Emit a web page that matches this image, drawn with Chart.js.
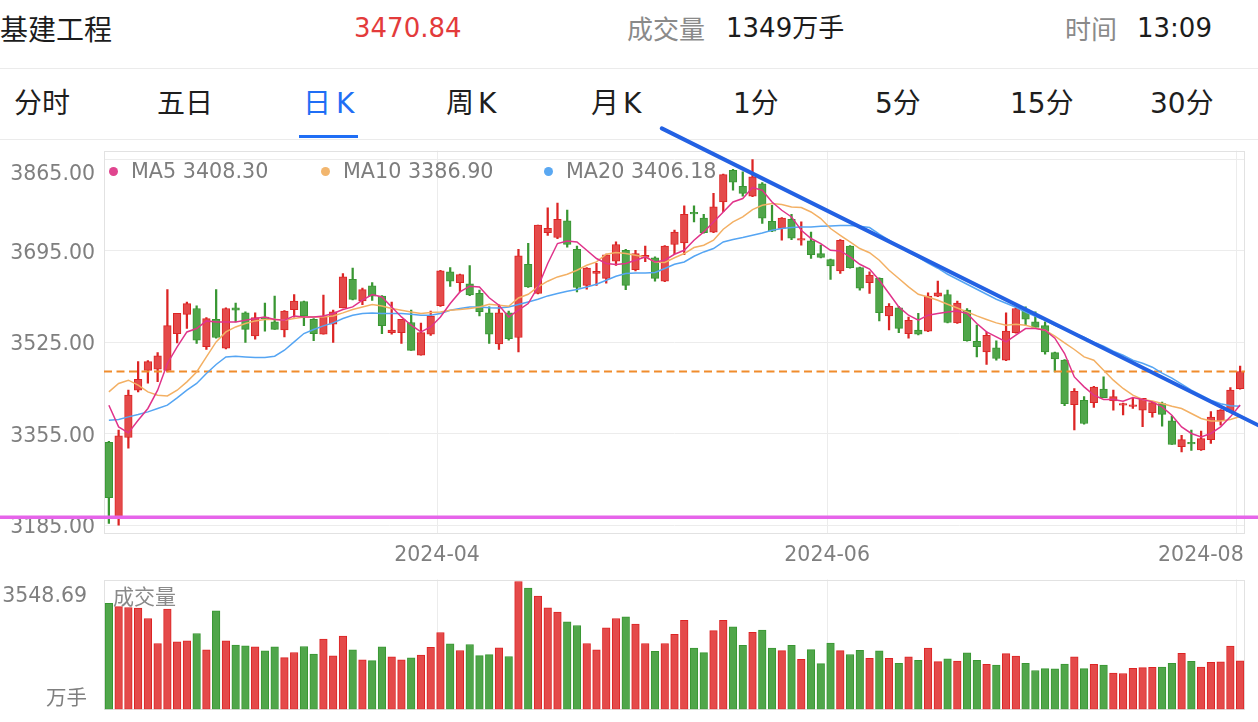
<!DOCTYPE html>
<html><head><meta charset="utf-8">
<script src="https://cdn.jsdelivr.net/npm/chart.js@4.4.1/dist/chart.umd.min.js"></script>
<style>
html,body{margin:0;padding:0;background:#fff;}
body{width:1258px;height:722px;position:relative;overflow:hidden;}
.t{position:absolute;white-space:nowrap;}
.cn{font-family:"Noto Sans CJK SC",sans-serif;}
.num{font-family:"DejaVu Sans","Noto Sans CJK SC",sans-serif;}
.hd{top:8px;line-height:40px;}
.tab{top:84px;line-height:40px;font-size:28px;color:#1e1e1e;}
.sep{position:absolute;left:0;width:1258px;height:1px;background:#ebebeb;}
.dot{position:absolute;width:9px;height:9px;border-radius:50%;top:167px;}
.lg{top:158px;line-height:26px;font-size:20.7px;color:#7d7d7d;z-index:2;}
canvas{position:absolute;left:0;z-index:1;}
</style></head><body>
<div class="t cn hd" style="left:0;font-size:28px;color:#1c1c1c">基建工程</div>
<div class="t num hd" style="left:354px;font-size:26px;color:#e33b3b">3470.84</div>
<div class="t cn hd" style="left:627px;font-size:26px;color:#8a8a8a">成交量</div>
<div class="t num hd" style="left:726px;font-size:26px;color:#1c1c1c">1349万手</div>
<div class="t cn hd" style="left:1065px;font-size:26px;color:#8a8a8a">时间</div>
<div class="t num hd" style="left:1137px;font-size:26px;color:#1c1c1c">13:09</div>
<div class="sep" style="top:68px"></div>
<div class="t num tab" style="left:14px">分时</div>
<div class="t num tab" style="left:157px">五日</div>
<div class="t num tab" style="left:303px;color:#1f6ef5">日<span style="margin-left:5px">K</span></div>
<div class="t num tab" style="left:446px">周<span style="margin-left:4px">K</span></div>
<div class="t num tab" style="left:591px">月<span style="margin-left:4px">K</span></div>
<div class="t num tab" style="left:733px">1分</div>
<div class="t num tab" style="left:875px">5分</div>
<div class="t num tab" style="left:1010px">15分</div>
<div class="t num tab" style="left:1150px">30分</div>
<div style="position:absolute;left:299px;top:135px;width:59px;height:3px;background:#1f6ef5"></div>
<div class="sep" style="top:139px"></div>

<canvas id="main" width="1258" height="460" style="top:110px"></canvas>
<canvas id="vol" width="1258" height="157" style="top:565px"></canvas>

<div class="dot" style="left:109px;background:#e0458f;z-index:2"></div>
<div class="t num lg" id="lg5" style="left:131px">MA5 3408.30</div>
<div class="dot" style="left:321px;background:#f2b66e;z-index:2"></div>
<div class="t num lg" id="lg10" style="left:343px">MA10 3386.90</div>
<div class="dot" style="left:544px;background:#5aa8f2;z-index:2"></div>
<div class="t num lg" id="lg20" style="left:566px">MA20 3406.18</div>
<div class="t cn" style="left:113px;top:582px;line-height:26px;font-size:21px;color:#8a8a8a;z-index:2">成交量</div>

<script>
// ---- categories ----
const dates = [
'2024-02-05','2024-02-06','2024-02-07','2024-02-08','2024-02-19','2024-02-20','2024-02-21','2024-02-22','2024-02-23','2024-02-26','2024-02-27','2024-02-28','2024-02-29',
'2024-03-01','2024-03-04','2024-03-05','2024-03-06','2024-03-07','2024-03-08','2024-03-11','2024-03-12','2024-03-13','2024-03-14','2024-03-15','2024-03-18','2024-03-19','2024-03-20','2024-03-21','2024-03-22','2024-03-25','2024-03-26','2024-03-27','2024-03-28','2024-03-29',
'2024-04-01','2024-04-02','2024-04-03','2024-04-08','2024-04-09','2024-04-10','2024-04-11','2024-04-12','2024-04-15','2024-04-16','2024-04-17','2024-04-18','2024-04-19','2024-04-22','2024-04-23','2024-04-24','2024-04-25','2024-04-26','2024-04-29','2024-04-30',
'2024-05-06','2024-05-07','2024-05-08','2024-05-09','2024-05-10','2024-05-13','2024-05-14','2024-05-15','2024-05-16','2024-05-17','2024-05-20','2024-05-21','2024-05-22','2024-05-23','2024-05-24','2024-05-27','2024-05-28','2024-05-29','2024-05-30','2024-05-31',
'2024-06-03','2024-06-04','2024-06-05','2024-06-06','2024-06-07','2024-06-11','2024-06-12','2024-06-13','2024-06-14','2024-06-17','2024-06-18','2024-06-19','2024-06-20','2024-06-21','2024-06-24','2024-06-25','2024-06-26','2024-06-27','2024-06-28',
'2024-07-01','2024-07-02','2024-07-03','2024-07-04','2024-07-05','2024-07-08','2024-07-09','2024-07-10','2024-07-11','2024-07-12','2024-07-15','2024-07-16','2024-07-17','2024-07-18','2024-07-19','2024-07-22','2024-07-23','2024-07-24','2024-07-25','2024-07-26','2024-07-29','2024-07-30','2024-07-31',
'2024-08-01'];

// ---- OHLC ----
const open = [3339,3200,3348,3436,3473,3475,3473,3541,3577,3588,3517,3568,3514,3589,3580,3537,3572,3563,3548,3586,
3601,3568,3540,3559,3589,3642,3602,3630,3611,3543,3543,3562,3501,3540,3593,3656,3636,3634,3616,3580,
3522,3580,3534,3670,3616,3729,3720,3751,3698,3631,3653,3644,3676,3696,3660,3683,3682,3639,3707,3710,
3766,3756,3730,3786,3845,3815,3797,3820,3750,3737,3754,3715,3714,3690,3679,3658,3704,3664,3636,3644,
3574,3589,3541,3548,3546,3611,3614,3561,3585,3527,3507,3515,3492,3543,3586,3563,3556,3506,3492,3409,
3417,3413,3438,3416,3408,3406,3399,3394,3411,3379,3331,3339,3325,3344,3379,3396,3439];
const high = [3341,3362,3436,3489,3491,3506,3623,3579,3600,3593,3571,3623,3589,3598,3582,3580,3598,3611,3584,3614,
3602,3569,3613,3585,3653,3663,3626,3636,3612,3600,3568,3585,3561,3583,3659,3664,3652,3668,3622,3591,
3595,3583,3698,3709,3743,3775,3784,3771,3704,3664,3672,3689,3712,3698,3696,3704,3684,3705,3734,3779,
3779,3763,3802,3838,3847,3842,3865,3822,3780,3757,3763,3749,3730,3706,3680,3716,3705,3665,3656,3645,
3597,3592,3572,3579,3617,3639,3622,3602,3588,3557,3544,3528,3580,3589,3591,3582,3563,3507,3493,3439,
3424,3443,3461,3436,3412,3421,3421,3414,3414,3388,3352,3362,3360,3396,3400,3441,3481];
const low = [3188,3185,3328,3433,3449,3452,3470,3524,3551,3523,3512,3533,3513,3563,3525,3531,3546,3549,3535,3572,
3556,3528,3540,3525,3589,3604,3595,3603,3541,3540,3523,3510,3501,3538,3592,3629,3619,3612,3574,3523,
3512,3529,3507,3627,3615,3724,3718,3702,3619,3624,3631,3635,3668,3623,3658,3675,3639,3638,3690,3688,
3749,3728,3729,3768,3808,3797,3796,3746,3731,3715,3716,3706,3681,3682,3642,3653,3663,3622,3616,3565,
3548,3543,3533,3539,3545,3610,3561,3560,3527,3498,3484,3492,3491,3542,3557,3552,3503,3470,3407,3362,
3373,3404,3422,3399,3390,3402,3368,3386,3369,3335,3321,3324,3324,3337,3371,3395,3438];
const close = [3236,3351,3427,3456,3489,3500,3556,3579,3597,3529,3569,3534,3588,3585,3549,3571,3569,3549,3583,3602,
3574,3541,3572,3582,3647,3605,3623,3611,3556,3548,3568,3510,3543,3574,3658,3639,3651,3613,3582,3540,
3580,3532,3686,3628,3743,3737,3754,3707,3627,3663,3657,3688,3707,3631,3690,3687,3644,3704,3730,3763,
3764,3729,3777,3837,3823,3802,3833,3756,3732,3756,3719,3718,3688,3683,3667,3715,3664,3626,3650,3580,
3592,3551,3566,3540,3611,3617,3562,3598,3528,3517,3538,3495,3546,3588,3568,3553,3507,3494,3411,3434,
3374,3442,3422,3424,3411,3409,3421,3413,3391,3335,3344,3336,3346,3386,3399,3436,3470.84];

// ---- volume (万手) ----
const volume = [2939,2850,2827,2810,2521,1826,2781,1873,1900,2104,1650,2735,1900,1780,1761,1733,1622,1733,1437,1576,
1743,1530,1947,1483,2030,1650,1372,1353,1733,1455,1372,1428,1502,1724,2132,1817,1632,1798,1492,1520,
1706,1465,3548.69,3365,3143,2818,2698,2429,2327,1826,1650,2262,2521,2568,2364,1826,1613,1826,2080,2473,
1702,1575,2183,2473,2292,1775,2138,2201,1702,1630,1775,1385,1657,1267,1838,1630,1521,1639,1412,1621,
1412,1276,1458,1358,1702,1322,1403,1340,1566,1358,1249,1231,1548,1476,1276,1077,1131,1122,1258,1458,
1131,1249,1231,1004,995,1138,1155,1166,1174,1277,1555,1332,1174,1305,1321,1757,1349];

// ---- moving averages ----
const ma5 = [3408.1,3367.8,3356.6,3380.2,3402,3436,3485.7,3516.5,3544.4,3550.7,
3564.9,3563,3563,3563,3566.2,3569.3,3572.3,3567.5,3566.2,3574.2,
3572.3,3572.3,3574.2,3578.6,3586.1,3590.9,3603.4,3614,3609.5,3590.9,
3572.3,3556.9,3544.4,3553.7,3572.3,3597.2,3618.8,3629.4,3628.1,3608,
3594.1,3572.3,3584.8,3597.2,3628.1,3671.6,3708.8,3713.6,3711.8,3696.3,
3680.9,3671.6,3669.8,3671.6,3677.7,3683.9,3674.6,3677.7,3688.9,3696.3,
3714.9,3730.4,3749,3767.5,3786.1,3792.5,3812.9,3807.9,3786.1,3770.7,
3758.3,3733.5,3718.1,3708.8,3696.3,3695,3683.9,3670.3,3661.4,3640.6,
3615.8,3590.9,3575.5,3566.2,3575.5,3578.6,3581.6,3583.5,3578.6,3560,
3544.4,3535.1,3525.8,3538.3,3550.7,3550.7,3547.6,3532.7,3504.3,3460.7,
3442.2,3426.7,3418.7,3418.7,3415.6,3422.4,3418.7,3414.3,3405,3389.5,
3367.8,3355.5,3349.2,3355.5,3367.8,3386.4,3408.30];
const ma10 = [3432.9,3448.5,3454.6,3445.3,3432.9,3426.7,3425.4,3436,3451.5,3470,
3497.9,3525.8,3544.4,3553.7,3560,3564.9,3567.5,3568,3566.2,3569.3,
3572.3,3572.3,3572.3,3574.2,3579.8,3586.1,3590.9,3595.4,3592.8,3587.9,
3584.8,3581.6,3578.6,3580.5,3581.6,3584.8,3586.1,3587.9,3590.9,3595.9,
3594.1,3592.2,3607.6,3614.5,3628.1,3638.7,3646.7,3651.7,3659.1,3668.4,
3674.6,3688.9,3692.1,3690.2,3687,3683.9,3674.6,3673.5,3682.4,3690.2,
3701.4,3705.6,3714.9,3735.4,3749,3758.3,3772,3780,3783.2,3781.3,
3776.8,3775.7,3767.5,3755.3,3736.7,3724.2,3711.8,3699.5,3691.7,3677.7,
3659.1,3643.7,3628.1,3614.5,3609.5,3603.4,3595.9,3589,3581.6,3574.2,
3567.5,3561.2,3556.9,3558.7,3556.9,3551.9,3547.6,3536.4,3524,3511.7,
3497.9,3491.8,3473.2,3454.6,3439.2,3426.7,3418.7,3416.1,3411.3,3406.3,
3402,3392.7,3383.4,3378.9,3378.9,3381.5,3386.90];
const ma20 = [3380.2,3381.5,3386.4,3390.8,3395.7,3402,3408.1,3421.7,3436,3448.5,
3467.1,3483.8,3497.9,3499.2,3497.9,3496.8,3496.8,3499.2,3510.4,3525.8,
3541.4,3548.9,3555.6,3561.2,3569.3,3575.5,3578.6,3579.8,3578.6,3578.6,
3578.6,3577.3,3575.5,3575.5,3578.6,3584.8,3587.9,3590.9,3590.9,3589.4,
3589,3590.9,3595.4,3600.2,3605.2,3611.4,3615.8,3620.1,3623.3,3628.1,
3633.1,3640.6,3648,3653,3654.1,3654.1,3654.9,3662.3,3670.3,3674.6,
3685.2,3693.2,3699.5,3711.8,3716.2,3719.9,3724.2,3728.5,3733.5,3736.7,
3738.6,3739.7,3739.7,3741,3741.5,3742.3,3742.3,3741,3738.6,3726.1,
3714.9,3703.8,3692.6,3683.3,3672.2,3662.9,3651.7,3642.4,3633.1,3623.8,
3614.5,3605.2,3597.8,3590.3,3581.1,3573.6,3566.2,3556.9,3549.4,3542,
3534.6,3525.3,3517.8,3508.5,3501.1,3491.8,3486.2,3478.8,3467.6,3458.3,
3447.2,3436,3426.7,3417.4,3410.9,3407.2,3406.18];

// ---- axis ticks / annotations ----
const priceTicks = [3185, 3355, 3525, 3695, 3865];
const monthTicks = ['2024-04', '2024-06', '2024-08'];
const volumeMax = 3548.69;
const volumeUnit = '万手';
const lastPrice = 3470.84;
const supportLevel = 3199.5;
const trendStart = [56.7, 3923];   // [index, price]
const trendEnd = [118.5, 3365];

// ---- build ----
const N = dates.length;
const UP = 'rgb(228,74,74)', UPE = 'rgb(220,36,36)';
const DN = 'rgb(80,166,74)', DNE = 'rgb(56,150,50)';
const isUp = close.map((c, i) => c >= open[i]);
const fill = isUp.map(u => u ? UP : DN);
const edge = isUp.map(u => u ? UPE : DNE);
const monthIdx = monthTicks.map(m => dates.findIndex(d => d.startsWith(m)));
const gridAt = monthIdx.map(i => i - 0.35);
const pts = arr => arr.map((v, i) => ({x: i, y: v}));

document.getElementById('lg5').textContent = 'MA5 ' + ma5[N-1].toFixed(2);
document.getElementById('lg10').textContent = 'MA10 ' + ma10[N-1].toFixed(2);
document.getElementById('lg20').textContent = 'MA20 ' + ma20[N-1].toFixed(2);

const AXIS_FONT = {family: "'DejaVu Sans', 'Noto Sans CJK SC'", size: 20.5};
const AXIS_COLOR = '#7f7f7f';
const GRID = '#ececec';

function fixSize(prop, val) {
  return s => {
    s[prop] = val;
    s.paddingLeft = 0; s.paddingRight = 0; s.paddingTop = 0; s.paddingBottom = 0;
  };
}

const framePlugin = {
  id: 'frame',
  beforeDatasetsDraw(chart) {
    const {ctx, chartArea: a} = chart;
    ctx.save();
    ctx.strokeStyle = '#e2e2e2';
    ctx.lineWidth = 1;
    ctx.strokeRect(Math.round(a.left) + 0.5, Math.round(a.top) + 0.5,
                   Math.round(a.right - a.left) - 1, Math.round(a.bottom - a.top) - 1);
    ctx.restore();
  }
};

Chart.defaults.font.family = AXIS_FONT.family;

new Chart(document.getElementById('main'), {
  type: 'bar',
  data: {
    datasets: [
      {type: 'line', label: 'trend', data: [{x: trendStart[0], y: trendStart[1]}, {x: trendEnd[0], y: trendEnd[1]}],
       borderColor: '#2361e3', borderWidth: 4, pointRadius: 0, clip: false, order: 0, borderCapStyle: 'round'},
      {type: 'line', label: 'support', data: [{x: -12, y: supportLevel}, {x: N + 2, y: supportLevel}],
       borderColor: '#e664ea', borderWidth: 3.5, pointRadius: 0, clip: false, order: 1},
      {type: 'line', label: 'MA5', data: pts(ma5), borderColor: '#e0338a', borderWidth: 1.5, pointRadius: 0, order: 3},
      {type: 'line', label: 'MA10', data: pts(ma10), borderColor: '#f3b064', borderWidth: 1.5, pointRadius: 0, order: 4},
      {type: 'line', label: 'MA20', data: pts(ma20), borderColor: '#55a5f3', borderWidth: 1.5, pointRadius: 0, order: 5},
      {type: 'line', label: 'last', data: [{x: -0.5, y: lastPrice}, {x: N - 0.5, y: lastPrice}],
       borderColor: '#f08c2c', borderDash: [8, 4.5], borderWidth: 2, pointRadius: 0, order: 6},
      {label: 'body', data: open.map((o, i) => ({x: i, y: [o, close[i]]})), backgroundColor: fill, borderColor: edge,
       borderWidth: 1, borderSkipped: false, barThickness: 7.6, minBarLength: 1.5, grouped: false, order: 8},
      {label: 'wick', data: low.map((l, i) => ({x: i, y: [l, high[i]]})), backgroundColor: edge,
       borderWidth: 0, barThickness: 1.6, grouped: false, order: 9}
    ]
  },
  options: {
    responsive: false, animation: false, devicePixelRatio: 1, events: [],
    layout: {padding: {top: 40.7, right: 13, bottom: 0, left: 0}, autoPadding: false},
    plugins: {legend: {display: false}, tooltip: {enabled: false}},
    scales: {
      x: {type: 'linear', min: -0.5, max: N - 0.5, offset: false,
          afterBuildTicks: s => { s.ticks = gridAt.map(v => ({value: v})); },
          afterFit: fixSize('height', 36),
          grid: {color: GRID, drawTicks: false, offset: false}, border: {display: false},
          ticks: {autoSkip: false, maxRotation: 0, padding: 9, color: AXIS_COLOR, font: AXIS_FONT,
                  callback: (v, k) => k === monthTicks.length - 1 ? monthTicks[k] + '\u00a0'.repeat(11) : monthTicks[k]}},
      y: {min: 3168.5, max: 3881.5, beginAtZero: false,
          afterBuildTicks: s => { s.ticks = priceTicks.map(v => ({value: v})); },
          afterFit: fixSize('width', 104),
          grid: {color: GRID, drawTicks: false}, border: {display: false},
          ticks: {padding: 9, labelOffset: 2.5, color: AXIS_COLOR, font: AXIS_FONT,
                  callback: v => v === priceTicks[priceTicks.length - 1] ? ['', v.toFixed(2)] : v.toFixed(2)}}
    }
  },
  plugins: [framePlugin]
});

new Chart(document.getElementById('vol'), {
  type: 'bar',
  data: {
    datasets: [
      {label: '成交量', data: pts(volume), backgroundColor: fill, borderColor: edge, borderWidth: 1,
       borderSkipped: false, barThickness: 7.6, grouped: false}
    ]
  },
  options: {
    responsive: false, animation: false, devicePixelRatio: 1, events: [],
    layout: {padding: {top: 14.5, right: 13, bottom: 12.7, left: 0}, autoPadding: false},
    plugins: {legend: {display: false}, tooltip: {enabled: false}},
    scales: {
      x: {type: 'linear', min: -0.5, max: N - 0.5, offset: false,
          afterBuildTicks: s => { s.ticks = gridAt.map(v => ({value: v})); },
          afterFit: fixSize('height', 0),
          grid: {color: GRID, drawTicks: false, offset: false}, border: {display: false},
          ticks: {display: false}},
      y: {min: 0, max: 3604,
          afterBuildTicks: s => { s.ticks = [{value: 0}, {value: volumeMax}]; },
          afterFit: fixSize('width', 104),
          grid: {display: false}, border: {display: false},
          ticks: {padding: 9, labelOffset: 2.5, color: AXIS_COLOR, font: AXIS_FONT,
                  callback: v => v === 0 ? [volumeUnit, ''] : ['', volumeMax.toFixed(2)]}}
    }
  },
  plugins: [framePlugin]
});
</script>
</body></html>
